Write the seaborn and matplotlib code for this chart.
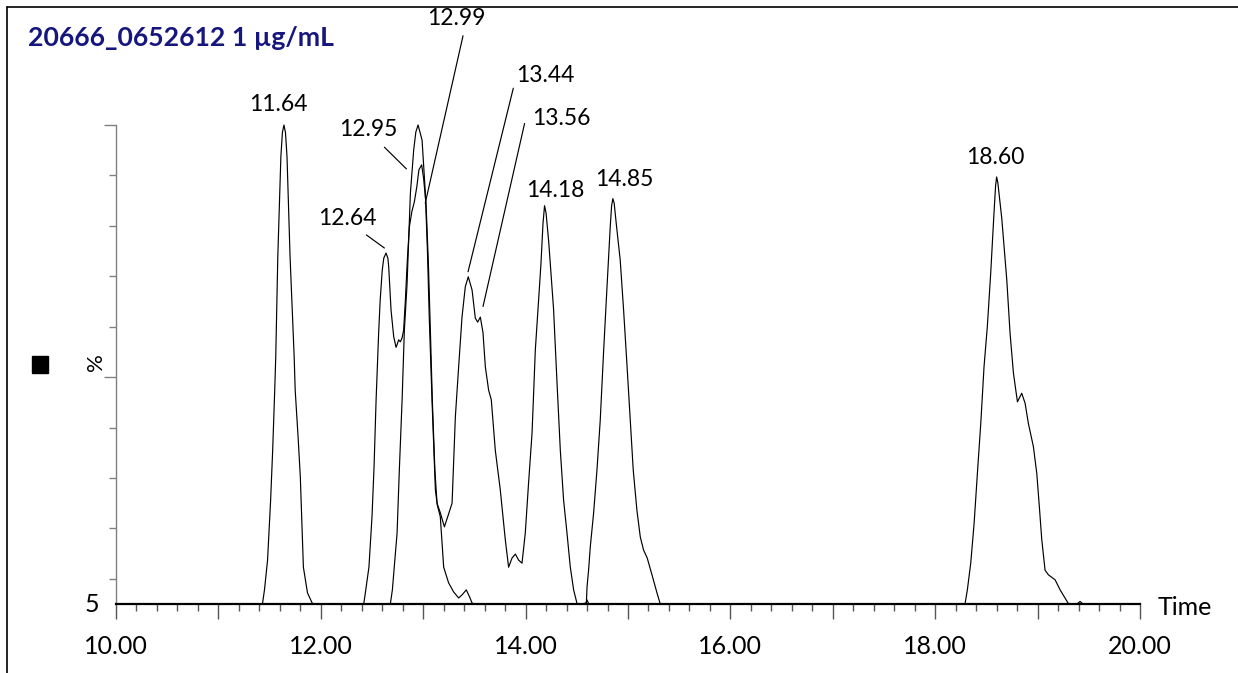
import numpy as np
import pandas as pd
import matplotlib
matplotlib.use('Agg')
import matplotlib.pyplot as plt
from matplotlib.patches import Rectangle
from matplotlib.lines import Line2D
from matplotlib.ticker import MultipleLocator
import seaborn as sns

# --- traces (time in min, intensity in %) ---
peak_a_time = [11.43, 11.45, 11.48, 11.51, 11.53, 11.55, 11.56, 11.58, 11.61, 11.625,
               11.64, 11.655, 11.67, 11.70, 11.74, 11.75, 11.78, 11.80, 11.83, 11.87, 11.92]
peak_a_pct = [5, 7.8, 13.7, 25.6, 35.5, 47.4, 54.0, 73.8, 93.7, 98.5,
              100, 98.5, 93.7, 73.8, 54.0, 47.4, 37.5, 30.2, 12.3, 7.2, 5]

peak_b_time = [12.42, 12.435, 12.47, 12.50, 12.52, 12.54, 12.565, 12.58, 12.60, 12.615,
               12.637, 12.655, 12.663, 12.686, 12.712, 12.735, 12.748, 12.76, 12.777, 12.794,
               12.809, 12.826, 12.845, 12.865, 12.889, 12.914, 12.938, 12.958, 12.985, 13.004,
               13.028, 13.05, 13.07, 13.089, 13.114, 13.135, 13.167, 13.187, 13.207, 13.236,
               13.282, 13.314, 13.346, 13.379, 13.411, 13.44, 13.477, 13.509, 13.532, 13.558,
               13.584, 13.607, 13.639, 13.665, 13.704, 13.753, 13.802, 13.834, 13.867, 13.90,
               13.932, 13.965, 13.997, 14.029, 14.063, 14.095, 14.127, 14.15, 14.17, 14.185,
               14.20, 14.225, 14.25, 14.273, 14.307, 14.339, 14.371, 14.404, 14.436, 14.469,
               14.502, 14.55, 14.59, 14.60, 14.615]
peak_b_pct = [5.1, 7.2, 12.3, 22.3, 32.2, 45.5, 58.8, 65.3, 71.2, 73.6,
              74.6, 73.6, 71.9, 63.3, 58.0, 55.9, 56.6, 57.4, 57.0, 57.8,
              59.3, 65.3, 73.2, 79.8, 82.8, 84.8, 87.8, 91.1, 92.1, 89.4,
              84.2, 73.0, 59.3, 45.5, 31.6, 25.0, 23.1, 21.7, 20.3, 22.1,
              25.0, 42.1, 52.0, 61.9, 67.9, 69.9, 67.3, 61.7, 60.9, 61.9,
              58.8, 52.0, 47.4, 45.5, 35.5, 27.6, 17.7, 12.3, 14.1, 14.9,
              13.7, 13.1, 19.1, 29.0, 38.9, 55.4, 65.3, 72.5, 80.5, 84.0,
              82.5, 77.0, 70.0, 63.5, 48.8, 35.5, 25.6, 19.1, 12.4, 7.8,
              5.1, 5.0, 5.2, 5.8, 5.1]

peak_c_time = [12.679, 12.699, 12.745, 12.767, 12.794, 12.816, 12.842, 12.875, 12.907, 12.928,
               12.95, 12.989, 13.021, 13.041, 13.06, 13.086, 13.119, 13.138, 13.167, 13.20,
               13.248, 13.297, 13.346, 13.379, 13.421, 13.453, 13.477, 13.49]
peak_c_pct = [5, 7.8, 19.1, 31.6, 45.5, 59.3, 68.3, 86.5, 95.0, 98.6,
              100, 97.0, 86.5, 75.2, 61.3, 45.5, 27.6, 24.6, 22.3, 12.3,
              9.2, 7.4, 6.2, 6.8, 7.8, 6.4, 5.2, 5]

peak_d_time = [14.593, 14.60, 14.615, 14.632, 14.664, 14.697, 14.729, 14.761, 14.795, 14.827,
               14.84, 14.852, 14.865, 14.885, 14.924, 14.957, 14.99, 15.022, 15.051, 15.087,
               15.12, 15.152, 15.188, 15.234, 15.283, 15.315]
peak_d_pct = [5, 8.4, 11.7, 16.4, 23.0, 31.6, 41.5, 54.8, 67.9, 80.0,
              84.0, 85.4, 84.5, 80.5, 73.2, 63.3, 52.4, 41.5, 31.6, 23.6,
              18.3, 15.7, 14.1, 10.8, 7.2, 5]

peak_e_time = [18.292, 18.314, 18.347, 18.38, 18.412, 18.445, 18.477, 18.509, 18.542, 18.574,
               18.59, 18.60, 18.612, 18.65, 18.699, 18.731, 18.764, 18.803, 18.845, 18.878,
               18.91, 18.959, 18.992, 19.017, 19.041, 19.073, 19.105, 19.171, 19.22, 19.30,
               19.385, 19.414, 19.444]
peak_e_pct = [5.1, 7.8, 13.1, 21.0, 30.9, 40.8, 52.1, 60.0, 70.6, 82.5,
              88.0, 89.7, 88.5, 81.5, 69.3, 58.7, 50.8, 45.1, 46.8, 44.8,
              40.8, 36.2, 30.9, 24.3, 17.7, 11.7, 10.8, 9.8, 7.8, 5.1,
              5, 5.5, 5]

peak_labels = ['11.64', '12.64', '12.95', '12.99', '13.44', '13.56', '14.18', '14.85', '18.60']

sns.set_theme(style='white')
plt.rcParams['font.family'] = ['Lato', 'DejaVu Sans']

traces = {
    'a': (peak_a_time, peak_a_pct),
    'b': (peak_b_time, peak_b_pct),
    'c': (peak_c_time, peak_c_pct),
    'd': (peak_d_time, peak_d_pct),
    'e': (peak_e_time, peak_e_pct),
}
df = pd.concat([pd.DataFrame({'time': t, 'pct': p, 'trace': k})
                for k, (t, p) in traces.items()], ignore_index=True)

W, H = 1238, 673
fig = plt.figure(figsize=(W / 100, H / 100), dpi=100)
ax = fig.add_axes([116 / W, 1 - 604 / H, 1024 / W, 479 / H])

sns.lineplot(data=df, x='time', y='pct', units='trace', estimator=None, sort=False,
             color='black', linewidth=0.85, ax=ax, legend=False)
for ln in ax.lines:
    ln.set_clip_on(False)

ax.set_xlim(10, 20)
ax.set_ylim(5, 100)
ax.set_xlabel('')
ax.set_ylabel('')
ax.spines['top'].set_visible(False)
ax.spines['right'].set_visible(False)
ax.spines['bottom'].set_color('black')
ax.spines['bottom'].set_linewidth(1.6)
ax.spines['left'].set_color('#808080')
ax.spines['left'].set_linewidth(1.0)

# x axis: ticks every 0.2, long every 1, labels every 2
xmaj = np.arange(10, 20.01, 1)
ax.set_xticks(xmaj)
ax.set_xticklabels([f'{v:.2f}' if int(round(v)) % 2 == 0 else '' for v in xmaj])
ax.xaxis.set_minor_locator(MultipleLocator(0.2))
ax.tick_params(axis='x', which='major', bottom=True, direction='out', length=10.5,
               width=1, color='#555555', labelsize=18, labelcolor='black', pad=12)
ax.tick_params(axis='x', which='minor', bottom=True, direction='out', length=5,
               width=1, color='#555555')

# y axis: long ticks at 50 and 100, short every 10
ax.set_yticks([50, 100])
ax.set_yticklabels(['', ''])
ax.yaxis.set_minor_locator(MultipleLocator(10))
ax.tick_params(axis='y', which='major', left=True, direction='out', length=8.4,
               width=1, color='#808080')
ax.tick_params(axis='y', which='minor', left=True, direction='out', length=4.8,
               width=1, color='#808080')
ax.text(-0.0168, 5, '5', transform=ax.get_yaxis_transform(), ha='right', va='center',
        fontsize=18, color='black')
ax.text(1.017, 4.3, 'Time', transform=ax.get_yaxis_transform(), ha='left', va='center',
        fontsize=18, color='black')

# peak labels and leader lines
label_pos = [(11.589, 104.1), (12.257, 81.4), (12.468, 99.1), (13.324, 121.2),
             (14.19, 109.9), (14.353, 101.3), (14.29, 87.1), (14.962, 89.2), (18.585, 93.6)]
for txt, (tx, ty) in zip(peak_labels, label_pos):
    ax.text(tx, ty, txt, ha='center', va='center', fontsize=16.5, color='black',
            clip_on=False)

leaders = {
    '12.64': ((12.445, 78.2), (12.621, 75.6)),
    '12.95': ((12.621, 95.6), (12.836, 91.3)),
    '12.99': ((13.389, 117.7), (13.020, 84.5)),
    '13.44': ((13.880, 107.3), (13.438, 70.9)),
    '13.56': ((13.990, 100.3), (13.584, 64.0)),
}
for (x0, y0), (x1, y1) in leaders.values():
    ax.plot([x0, x1], [y0, y1], color='black', lw=0.85, clip_on=False)

# title, side marker, % label and page frame
fig.text(28 / W, 1 - 38 / H, '20666_0652612 1 µg/mL', ha='left', va='center',
         fontsize=19.2, fontweight='bold', color='#16167f')
fig.text(96.3 / W, 1 - 362.5 / H, '%', rotation=90, ha='center', va='center',
         fontsize=16, color='black')
fig.add_artist(Rectangle((31.7 / W, 1 - 372.7 / H), 16 / W, 16.7 / H,
                         transform=fig.transFigure, color='black'))
fig.add_artist(Line2D([7 / W, 7 / W], [0, 1 - 7 / H], transform=fig.transFigure,
                      color='black', lw=1.2))
fig.add_artist(Line2D([7 / W, 1], [1 - 7 / H, 1 - 7 / H], transform=fig.transFigure,
                      color='black', lw=1.2))

fig.savefig('out.png', dpi=100)
